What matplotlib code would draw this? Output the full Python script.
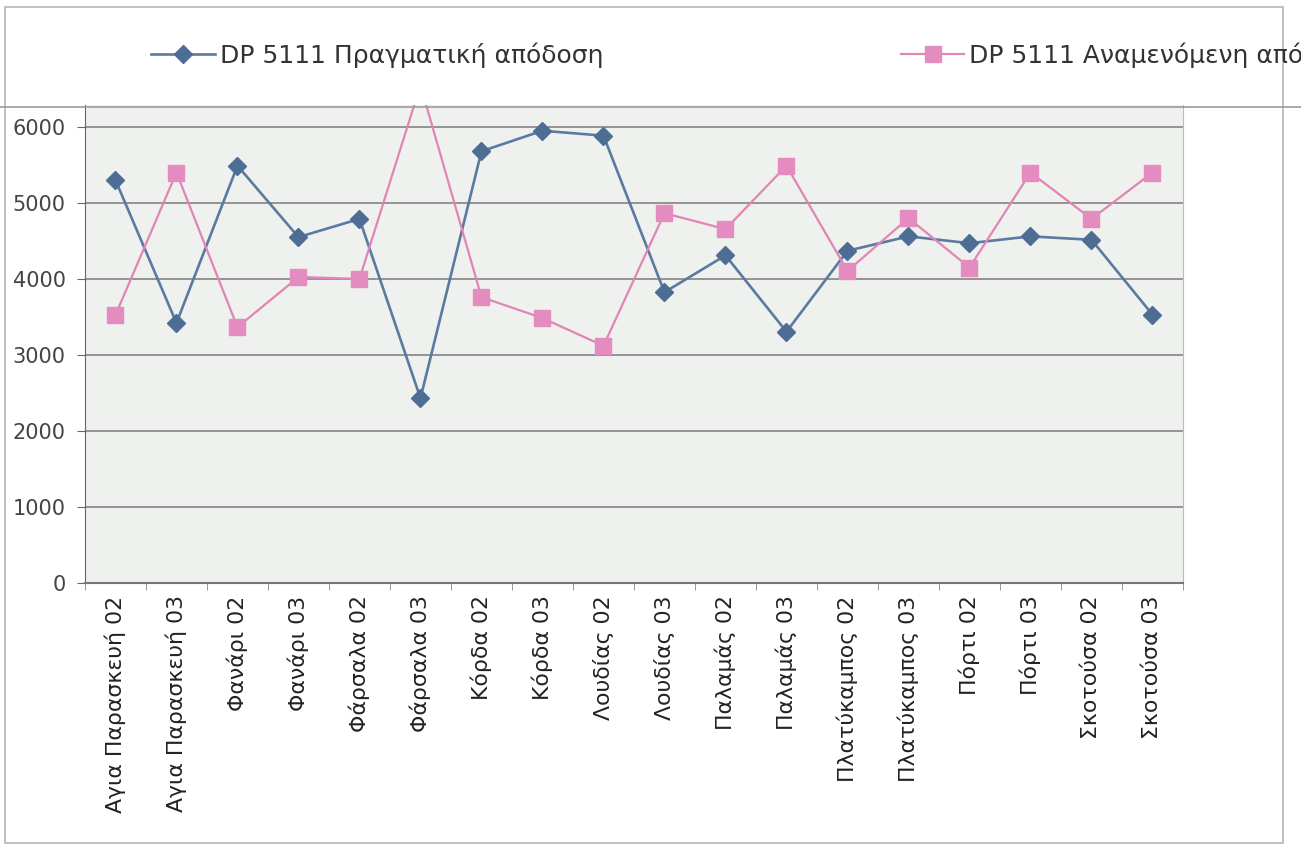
import matplotlib
matplotlib.use("Agg")
from matplotlib import pyplot as plt
from matplotlib.lines import Line2D
from matplotlib.patches import Rectangle
import numpy as np

plt.rcParams['font.family'] = ['DejaVu Sans']

categories = ['Αγια Παρασκευή 02', 'Αγια Παρασκευή 03', 'Φανάρι 02', 'Φανάρι 03',
              'Φάρσαλα 02', 'Φάρσαλα 03', 'Κόρδα 02', 'Κόρδα 03', 'Λουδίας 02',
              'Λουδίας 03', 'Παλαμάς 02', 'Παλαμάς 03', 'Πλατύκαμπος 02',
              'Πλατύκαμπος 03', 'Πόρτι 02', 'Πόρτι 03', 'Σκοτούσα 02', 'Σκοτούσα 03']
actual = [5300, 3420, 5490, 4550, 4790, 2430, 5680, 5950, 5885,
          3825, 4310, 3305, 4370, 4560, 4470, 4560, 4515, 3530]
expected = [3525, 5400, 3365, 4025, 4000, 6550, 3760, 3485, 3120,
            4865, 4655, 5490, 4105, 4800, 4150, 5400, 4790, 5400]
label_actual = 'DP 5111 Πραγματική απόδοση'
label_expected = 'DP 5111 Αναμενόμενη απόδοση'

blue = '#5a7aa0'
blue_mk = '#4d6d94'
pink = '#e184b6'
pink_mk = '#e48cc0'

fig = plt.figure(figsize=(13.01, 8.46), dpi=100)
ax = fig.add_axes([0.0653, 0.311, 0.844, 0.565])
ax.set_facecolor('#eff1ee')

x = np.arange(len(categories))
ax.plot(x, actual, color=blue, lw=1.9, marker='D', ms=9, mfc=blue_mk, mec=blue_mk,
        label=label_actual, zorder=3)
ax.plot(x, expected, color=pink, lw=1.6, marker='s', ms=11, mfc=pink_mk, mec=pink_mk,
        label=label_expected, zorder=3)

ax.set_xlim(-0.5, len(categories) - 0.5)
ax.set_ylim(0, 6290)
ax.set_yticks(range(0, 7000, 1000))
ax.yaxis.grid(True, color='#8c8c8c', lw=1.3)
ax.set_axisbelow(True)

ax.set_xticks(x)
ax.set_xticklabels(categories, rotation=90, va='top', ha='center')
ax.set_xticks(np.arange(-0.5, len(categories), 1), minor=True)
ax.tick_params(axis='x', which='major', length=0, pad=9, labelsize=15.8, labelcolor='#222222')
ax.tick_params(axis='x', which='minor', length=5, color='#888888')
ax.tick_params(axis='y', length=6, color='#666666', pad=8, labelsize=15, labelcolor='#444444')

ax.spines['top'].set_visible(False)
ax.spines['left'].set_color('#666666')
ax.spines['bottom'].set_color('#777777')
ax.spines['bottom'].set_linewidth(1.5)
ax.spines['right'].set_color('#bbbbbb')

# legends (two separate entries, the second runs off the edge as in the scan)
h1 = Line2D([], [], color=blue, lw=1.9, marker='D', ms=9, mfc=blue_mk, mec=blue_mk)
h2 = Line2D([], [], color=pink, lw=1.6, marker='s', ms=11, mfc=pink_mk, mec=pink_mk)
fig.legend([h1], [label_actual], loc='center left', bbox_to_anchor=(0.099, 0.935),
           frameon=False, fontsize=18, handlelength=2.55, handletextpad=0.2,
           labelcolor='#333333')
fig.legend([h2], [label_expected], loc='center left', bbox_to_anchor=(0.675, 0.935),
           frameon=False, fontsize=18, handlelength=2.55, handletextpad=0.2,
           labelcolor='#333333')

# scanned chart frame
fig.add_artist(Rectangle((0.004, 0.004), 0.982, 0.988, transform=fig.transFigure,
                         fill=False, ec='#b5b5b5', lw=1.2))
fig.add_artist(Line2D([0, 1], [0.874, 0.874], transform=fig.transFigure,
                      color='#9a9a9a', lw=1.2))

fig.savefig('out.png', dpi=100)
